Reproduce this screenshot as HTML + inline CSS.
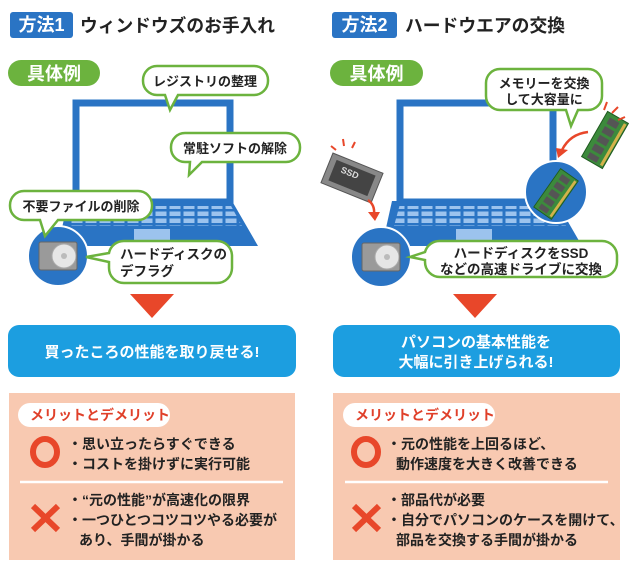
<!DOCTYPE html>
<html><head><meta charset="utf-8"><style>
html,body{margin:0;padding:0;background:#fff;width:630px;height:569px;overflow:hidden}
svg{display:block}
text{font-family:"Liberation Sans","Noto Sans CJK JP",sans-serif;font-weight:bold}
</style></head><body>
<svg width="630" height="569" viewBox="0 0 630 569" xmlns="http://www.w3.org/2000/svg">
<defs>
<pattern id="keys" x="0" y="0" width="14" height="7" patternUnits="userSpaceOnUse">
<rect x="1.5" y="1.5" width="11" height="4.5" fill="#9cc3ee"/>
</pattern>
<clipPath id="kbL"><polygon points="76,204 230,204 242,226 70,226"/></clipPath>
<clipPath id="kbR"><polygon points="400,204 554,204 566,226 394,226"/></clipPath>
<g id="hdd">
<rect x="-19" y="-14" width="38" height="28" rx="2" fill="#9a9a9a" stroke="#666" stroke-width="1"/>
<circle cx="6" cy="0" r="12" fill="#e6e6e6" stroke="#aaa"/>
<circle cx="6" cy="0" r="3" fill="#bbb"/>
</g>
<g id="mem">
<rect x="-12" y="-26" width="24" height="52" fill="#3c8a3c" stroke="#1f5a1f"/>
<rect x="-7" y="-22" width="11" height="7" fill="#555"/>
<rect x="-7" y="-12" width="11" height="7" fill="#555"/>
<rect x="-7" y="-2" width="11" height="7" fill="#555"/>
<rect x="-7" y="8" width="11" height="7" fill="#555"/>
<rect x="-7" y="18" width="11" height="6" fill="#555"/>
<rect x="8" y="-24" width="3" height="48" fill="#d4b24a"/>
</g>
</defs>

<!-- ===== LEFT ===== -->
<rect x="10" y="12" width="63" height="26" rx="3" fill="#2a74c4"/>
<text x="41.5" y="31" fill="#fff" font-size="18" text-anchor="middle">方法1</text>
<text x="80" y="32" fill="#222" font-size="18" textLength="195" lengthAdjust="spacingAndGlyphs">ウィンドウズのお手入れ</text>

<rect x="8" y="60" width="92" height="26" rx="13" fill="#6cb33e"/>
<text x="54" y="80" fill="#fff" font-size="18" text-anchor="middle">具体例</text>

<polygon points="68,201 232,201 258,246 58,246" fill="#2a74c4"/>
<rect x="66" y="206" width="180" height="21" fill="url(#keys)" clip-path="url(#kbL)"/>
<rect x="134" y="229" width="36" height="11" fill="#9cc3ee"/>
<rect x="76" y="103" width="154" height="99" fill="#fff" stroke="#2a74c4" stroke-width="7"/>

<path d="M157,66 H254 a14,14 0 0 1 14,14 v1 a14,14 0 0 1 -14,14 H178 L170,110 L165,95 H157 a14,14 0 0 1 -14,-14 v-1 a14,14 0 0 1 14,-14z" fill="#fff" stroke="#6cb33e" stroke-width="2.5"/>
<text x="205" y="86" font-size="13" fill="#222" text-anchor="middle">レジストリの整理</text>
<path d="M185,133 H286 a14,14 0 0 1 14,14 v1 a14,14 0 0 1 -14,14 H202 L189,175 L190,162 H185 a14,14 0 0 1 -14,-14 v-1 a14,14 0 0 1 14,-14z" fill="#fff" stroke="#6cb33e" stroke-width="2.5"/>
<text x="235" y="153" font-size="13" fill="#222" text-anchor="middle">常駐ソフトの解除</text>

<circle cx="58" cy="256" r="30" fill="#2a74c4" stroke="#fff" stroke-width="2"/>
<use href="#hdd" x="58" y="256"/>

<path d="M24,191 H138 a14,14 0 0 1 14,14 v1 a14,14 0 0 1 -14,14 H58 L45,236 L40,220 H24 a14,14 0 0 1 -14,-14 v-1 a14,14 0 0 1 14,-14z" fill="#fff" stroke="#6cb33e" stroke-width="2.5"/>
<text x="81" y="211" font-size="13" fill="#222" text-anchor="middle">不要ファイルの削除</text>

<path d="M124,241 H217 a15,15 0 0 1 15,15 v12 a15,15 0 0 1 -15,15 H124 a15,15 0 0 1 -15,-15 v-6 L86,257 L109,253 v-0 a15,15 0 0 1 15,-12z" fill="#fff" stroke="#6cb33e" stroke-width="2.5"/>
<text x="120" y="259" font-size="13.5" fill="#222">ハードディスクの</text>
<text x="120" y="276" font-size="13.5" fill="#222">デフラグ</text>

<polygon points="130,294 174,294 152,318" fill="#e8472a"/>

<rect x="8" y="325" width="288" height="52" rx="11" fill="#1c9ee0"/>
<text x="152" y="357" font-size="15" fill="#fff" text-anchor="middle">買ったころの性能を取り戻せる!</text>

<rect x="9" y="393" width="286" height="167" fill="#f8c9b1"/>
<rect x="18" y="403" width="152" height="24" rx="12" fill="#fff"/>
<text x="30" y="420" font-size="14" fill="#e0402a">メリットとデメリット</text>
<ellipse cx="45" cy="452" rx="12" ry="13" fill="none" stroke="#e8472a" stroke-width="6"/>
<text x="68" y="449" font-size="14" fill="#222">・思い立ったらすぐできる</text>
<text x="68" y="469" font-size="14" fill="#222">・コストを掛けずに実行可能</text>
<line x1="20" y1="482" x2="283" y2="482" stroke="#fff" stroke-width="2.5"/>
<path d="M33,506 L58,530 M58,506 L33,530" stroke="#e8472a" stroke-width="6"/>
<text x="68" y="505" font-size="14" fill="#222">・“元の性能”が高速化の限界</text>
<text x="68" y="525" font-size="14" fill="#222">・一つひとつコツコツやる必要が</text>
<text x="79" y="545" font-size="14" fill="#222">あり、手間が掛かる</text>

<!-- ===== RIGHT ===== -->
<rect x="332" y="12" width="65" height="26" rx="3" fill="#2a74c4"/>
<text x="364.5" y="31" fill="#fff" font-size="18" text-anchor="middle">方法2</text>
<text x="405" y="32" fill="#222" font-size="18" textLength="160" lengthAdjust="spacingAndGlyphs">ハードウエアの交換</text>

<rect x="330" y="60" width="93" height="26" rx="13" fill="#6cb33e"/>
<text x="376.5" y="80" fill="#fff" font-size="18" text-anchor="middle">具体例</text>

<polygon points="392,201 556,201 582,246 382,246" fill="#2a74c4"/>
<rect x="390" y="206" width="180" height="21" fill="url(#keys)" clip-path="url(#kbR)"/>
<rect x="456" y="229" width="36" height="11" fill="#9cc3ee"/>
<rect x="400" y="103" width="153" height="99" fill="#fff" stroke="#2a74c4" stroke-width="7"/>

<path d="M500,69 H588 a14,14 0 0 1 14,14 v13 a14,14 0 0 1 -14,14 H578 L571,126 L566,110 H500 a14,14 0 0 1 -14,-14 v-13 a14,14 0 0 1 14,-14z" fill="#fff" stroke="#6cb33e" stroke-width="2.5"/>
<text x="544" y="88" font-size="13" fill="#222" text-anchor="middle">メモリーを交換</text>
<text x="544" y="104" font-size="13" fill="#222" text-anchor="middle">して大容量に</text>

<g transform="translate(605,140) rotate(30)"><use href="#mem"/></g>
<path d="M604,110 l3,-8 M612,113 l6,-6 M618,120 l7,-3" stroke="#e8472a" stroke-width="2"/>
<path d="M588,132 Q570,134 562,150" fill="none" stroke="#e8472a" stroke-width="2.5"/>
<polygon points="556,148 568,150 558,158" fill="#e8472a"/>

<circle cx="556" cy="192" r="31" fill="#2a74c4" stroke="#fff" stroke-width="2"/>
<g transform="translate(556,194) rotate(35) scale(0.9)"><use href="#mem"/></g>

<g transform="translate(352,178) rotate(22)">
<rect x="-27" y="-16" width="54" height="32" fill="#888" stroke="#555"/>
<rect x="-21" y="-11" width="42" height="22" fill="#444"/>
<text x="-4" y="-1" font-size="9" fill="#ddd" text-anchor="middle">SSD</text>
</g>
<path d="M336,150 l-5,-4 M344,146 l-1,-7 M352,148 l3,-6" stroke="#e8472a" stroke-width="2"/>
<path d="M368,200 Q375,205 374,214" fill="none" stroke="#e8472a" stroke-width="2.5"/>
<polygon points="368,212 380,212 375,221" fill="#e8472a"/>

<circle cx="381" cy="257" r="30" fill="#2a74c4" stroke="#fff" stroke-width="2"/>
<use href="#hdd" x="381" y="257"/>

<path d="M440,241 H602 a15,15 0 0 1 15,15 v6 a15,15 0 0 1 -15,15 H440 a15,15 0 0 1 -15,-15 v-2 L410,257 L425,252 a15,15 0 0 1 15,-11z" fill="#fff" stroke="#6cb33e" stroke-width="2.5"/>
<text x="521" y="258" font-size="13.5" fill="#222" text-anchor="middle">ハードディスクをSSD</text>
<text x="521" y="274" font-size="13.5" fill="#222" text-anchor="middle">などの高速ドライブに交換</text>

<polygon points="453,294 497,294 475,318" fill="#e8472a"/>

<rect x="333" y="325" width="287" height="52" rx="11" fill="#1c9ee0"/>
<text x="476" y="347" font-size="15" fill="#fff" text-anchor="middle">パソコンの基本性能を</text>
<text x="476" y="367" font-size="15" fill="#fff" text-anchor="middle">大幅に引き上げられる!</text>

<rect x="333" y="393" width="287" height="167" fill="#f8c9b1"/>
<rect x="343" y="403" width="152" height="24" rx="12" fill="#fff"/>
<text x="355" y="420" font-size="14" fill="#e0402a">メリットとデメリット</text>
<ellipse cx="366" cy="452" rx="12" ry="13" fill="none" stroke="#e8472a" stroke-width="6"/>
<text x="387" y="449" font-size="14" fill="#222">・元の性能を上回るほど、</text>
<text x="396" y="469" font-size="14" fill="#222">動作速度を大きく改善できる</text>
<line x1="345" y1="482" x2="608" y2="482" stroke="#fff" stroke-width="2.5"/>
<path d="M354,506 L379,530 M379,506 L354,530" stroke="#e8472a" stroke-width="6"/>
<text x="387" y="505" font-size="14" fill="#222">・部品代が必要</text>
<text x="387" y="525" font-size="14" fill="#222">・自分でパソコンのケースを開けて、</text>
<text x="396" y="545" font-size="14" fill="#222">部品を交換する手間が掛かる</text>
</svg>
</body></html>
